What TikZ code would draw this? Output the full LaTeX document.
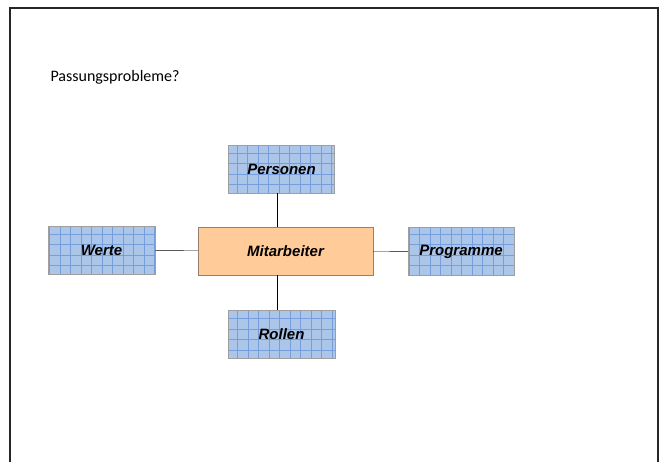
\documentclass[tikz,border=0pt]{standalone}
\usepackage{fontspec}
\setmainfont{Carlito}
\newfontfamily\arialfont{Liberation Sans}
\definecolor{boxblue}{RGB}{172,198,234}
\definecolor{gridblue}{RGB}{118,158,220}
\definecolor{boxpeach}{RGB}{255,204,153}
\definecolor{peachline}{RGB}{150,128,108}
\begin{document}
\begin{tikzpicture}[x=1pt,y=-1pt,
  gridbox/.style={draw=gray!75,fill=boxblue,minimum width=106pt,minimum height=48pt,inner sep=0pt,
    font=\arialfont\bfseries\itshape\fontsize{15}{17}\selectfont,
    path picture={\draw[gridblue,line width=0.4pt] (path picture bounding box.north west)
      grid[step=10.5pt] (path picture bounding box.south east);}},
  mainbox/.style={draw=peachline,fill=boxpeach,minimum width=175pt,minimum height=48pt,inner sep=0pt,
    font=\arialfont\bfseries\itshape\fontsize{15}{17}\selectfont}]
  \fill[white] (0,0) rectangle (666,462);
  \draw[line width=2pt,black!85] (10,462) -- (10,8) -- (658,8) -- (658,462);
  \node[anchor=base west,font=\fontsize{16}{19}\selectfont] (title) at (47,81) {Passungsprobleme?};

  \node [mainbox] (mit)   at (285.5,251) {Mitarbeiter};
  \node [gridbox] (pers)  at (281.5,169) {Personen};
  \node [gridbox,minimum width=107pt] (werte) at (101.5,250) {Werte};
  \node [gridbox] (prog)  at (461,251.5) {Programme};
  \node [gridbox,minimum width=107pt] (rol) at (281.5,334) {Rollen};

  \draw (werte) -- (mit) (mit) -- (prog);
  \draw ([xshift=-4.5pt]pers.south) -- ([xshift=-4.5pt]pers.south |- mit.north);
  \draw ([xshift=-4.5pt]rol.north) -- ([xshift=-4.5pt]rol.north |- mit.south);
\end{tikzpicture}
\end{document}
